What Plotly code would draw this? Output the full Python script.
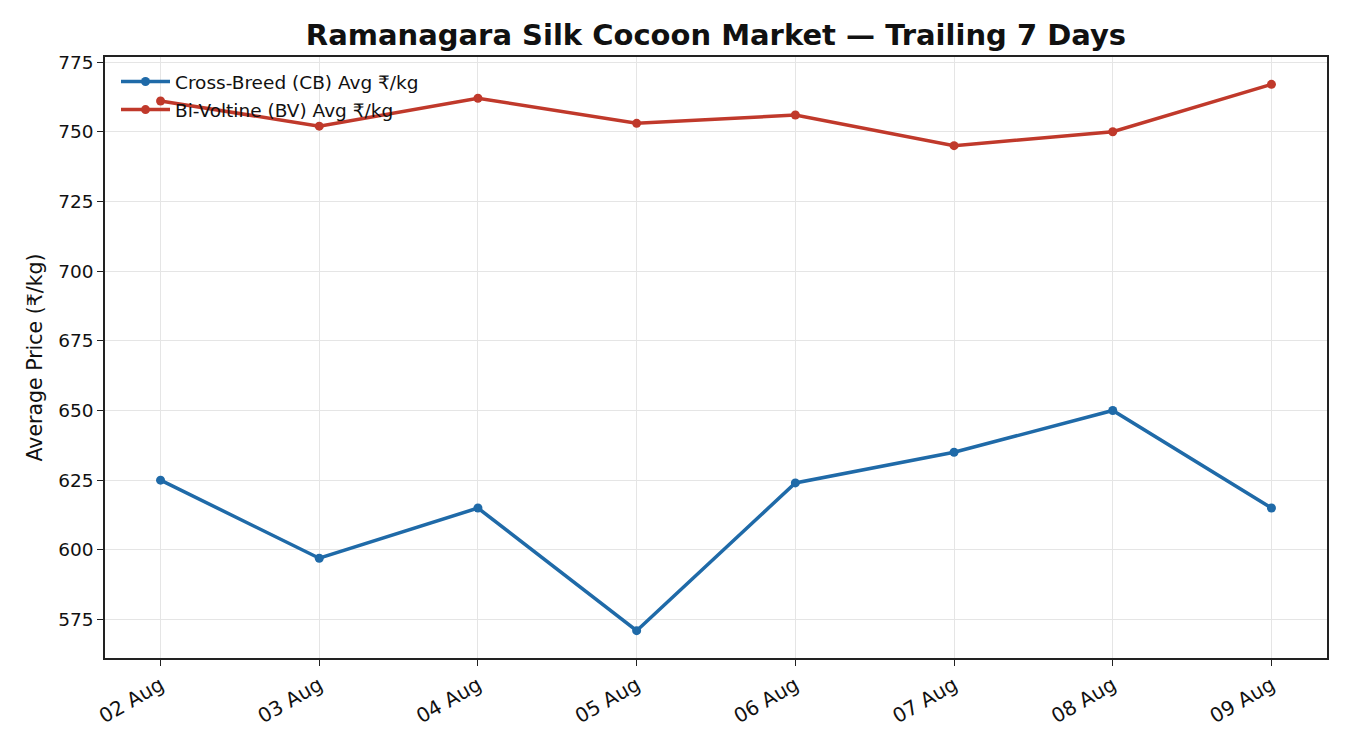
import plotly.graph_objects as go

# Trailing 7 days of cocoon auction prices
dates = ["02 Aug", "03 Aug", "04 Aug", "05 Aug", "06 Aug", "07 Aug", "08 Aug", "09 Aug"]
cb_avg = [625, 597, 615, 571, 624, 635, 650, 615]
bv_avg = [761, 752, 762, 753, 756, 745, 750, 767]
y_ticks = [575, 600, 625, 650, 675, 700, 725, 750, 775]

fig = go.Figure()
fig.add_trace(
    go.Scatter(
        x=dates,
        y=cb_avg,
        mode="lines+markers",
        name="Cross-Breed (CB) Avg ₹/kg",
        legendgroup="cb",
        line=dict(color="#1f6aa8", width=3.5),
        marker=dict(size=9, color="#1f6aa8"),
    )
)
fig.add_trace(
    go.Scatter(
        x=dates,
        y=bv_avg,
        mode="lines+markers",
        name="Bi-Voltine (BV) Avg ₹/kg",
        legendgroup="bv",
        line=dict(color="#c0392b", width=3.5),
        marker=dict(size=9, color="#c0392b"),
    )
)

axis_style = dict(
    showline=True,
    linecolor="#222222",
    linewidth=1.5,
    mirror=True,
    ticks="outside",
    ticklen=6,
    tickcolor="#222222",
    showgrid=True,
    gridcolor="#e5e5e5",
    gridwidth=1,
    zeroline=False,
)

fig.update_xaxes(
    type="category",
    range=[-0.35, len(dates) - 1 + 0.35],
    tickangle=-30,
    tickfont=dict(size=20, color="#111111"),
    **axis_style,
)
fig.update_yaxes(
    range=[561.2, 776.8],
    tickvals=y_ticks,
    tickfont=dict(size=18.5, color="#111111"),
    title=dict(text="Average Price (₹/kg)", font=dict(size=20.5, color="#111111"), standoff=10),
    **axis_style,
)

# page body adds ~8px offset, so the figure is slightly smaller than the window
fig.update_layout(
    width=1342,
    height=742,
    font=dict(family="DejaVu Sans", color="#111111"),
    title=dict(
        text="<b>Ramanagara Silk Cocoon Market — Trailing 7 Days</b>",
        x=0.5,
        xref="paper",
        xanchor="center",
        y=0.978,
        yanchor="top",
        font=dict(size=29, color="#111111"),
    ),
    plot_bgcolor="white",
    paper_bgcolor="white",
    margin=dict(l=97, r=23, t=49, b=92),
    legend=dict(
        x=0.009,
        y=0.99,
        xanchor="left",
        yanchor="top",
        bgcolor="rgba(0,0,0,0)",
        font=dict(size=18.5),
        itemwidth=49,
        traceorder="grouped",
        tracegroupgap=1,
    ),
)

fig.write_html("out.html")
